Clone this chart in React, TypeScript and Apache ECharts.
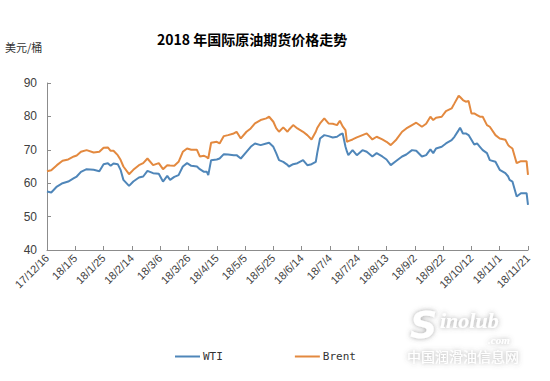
import React, { useEffect, useRef } from "react";
import * as echarts from "echarts";

const titleText = "2018 年国际原油期货价格走势";
const unitText = "美元/桶";
const seriesNames = ["WTI", "Brent"];

// x tick labels every 20 days, starting 2017-12-16
const tickLabels = [
  "17/12/16", "18/1/5", "18/1/25", "18/2/14", "18/3/6", "18/3/26", "18/4/15", "18/5/5", "18/5/25",
  "18/6/14", "18/7/4", "18/7/24", "18/8/13", "18/9/2", "18/9/22", "18/10/12", "18/11/1", "18/11/21",
];

// day offset from 2017-12-16
const days = [
  0, 3, 7, 11, 15, 19, 21, 24, 28, 33, 37, 40, 43, 45, 47, 50, 52, 54, 58, 61, 65, 68,
  71, 75, 79, 82, 85, 87, 90, 93, 96, 99, 102, 106, 108, 111, 113, 114, 116, 120, 122, 125, 128, 132, 134, 137,
  141, 144, 147, 151, 155, 157, 160, 162, 164, 167, 170, 171, 174, 177, 181, 184, 187, 190, 191, 193, 196, 199, 202,
  205, 207, 209, 211, 212, 213, 216, 219, 223, 226, 230, 233, 237, 240, 243, 247, 251, 254, 258, 261, 265, 268, 271,
  273, 275, 279, 282, 286, 288, 291, 292, 294, 296, 298, 300, 302, 304, 306, 308, 311, 313, 317, 320, 324, 326, 327,
  329, 332, 335, 339, 340,
];

const wti = [
  57.5, 57.2, 59.0, 60.0, 60.5, 61.5, 62.0, 63.4, 64.2, 64.0, 63.6, 65.7, 66.0, 65.2, 65.9, 65.7, 64.0, 61.0, 59.2, 60.5, 61.7, 62.0,
  63.7, 63.0, 62.8, 60.5, 62.2, 61.0, 61.9, 62.4, 65.0, 66.0, 65.2, 65.0, 64.2, 63.4, 63.4, 62.4, 66.9, 67.1, 67.4, 68.7, 68.6, 68.4, 68.4, 67.4,
  69.4, 70.9, 71.9, 71.4, 71.9, 72.1, 70.9, 69.0, 66.9, 66.4, 65.5, 65.0, 65.7, 66.0, 66.9, 65.4, 65.7, 66.4, 69.0, 73.4, 74.4, 74.1, 73.7,
  73.9, 74.5, 74.9, 70.9, 69.5, 68.4, 69.9, 68.4, 69.9, 69.4, 68.0, 69.0, 68.0, 67.1, 65.4, 66.7, 68.0, 68.6, 69.9, 69.7, 68.0, 68.4, 70.1,
  69.0, 70.4, 70.9, 71.9, 72.9, 73.9, 75.9, 76.6, 74.9, 74.9, 74.4, 73.0, 71.6, 71.9, 70.9, 69.9, 69.0, 66.9, 66.4, 64.0, 63.0, 62.0, 61.0,
  60.5, 56.0, 57.0, 57.0, 53.5,
];

const brent = [
  63.6, 63.9, 65.4, 66.7, 67.1, 68.0, 68.3, 69.4, 69.9, 69.2, 69.4, 70.6, 70.7, 69.7, 69.7, 68.4, 67.0, 65.0, 62.7, 64.0, 65.4, 66.0,
  67.4, 65.4, 66.0, 64.2, 65.4, 65.3, 65.2, 66.4, 69.4, 70.4, 70.0, 70.0, 68.0, 68.2, 67.8, 67.4, 72.1, 72.4, 71.9, 74.1, 74.4, 74.9, 75.4, 73.4,
  75.4, 76.4, 77.9, 78.9, 79.4, 79.9, 78.4, 76.5, 75.4, 76.7, 75.4, 76.0, 77.4, 76.4, 75.4, 74.4, 73.1, 75.4, 76.5, 77.9, 79.4, 77.9, 77.8,
  77.4, 78.7, 77.0, 75.9, 72.4, 72.6, 73.1, 73.7, 74.4, 74.9, 73.1, 73.9, 73.1, 72.4, 71.4, 73.1, 75.4, 76.4, 77.4, 78.1, 76.9, 77.8, 79.9,
  78.9, 79.6, 79.9, 81.6, 82.4, 83.9, 86.2, 85.8, 84.9, 84.4, 84.6, 80.9, 80.9, 80.4, 79.9, 79.9, 77.4, 76.9, 74.4, 73.4, 73.0, 71.4, 71.0,
  70.4, 66.0, 66.6, 66.6, 62.5,
];

const colors = ["#4F86B9", "#E3893F"];

export default function App() {
  const ref = useRef<HTMLDivElement>(null);
  useEffect(() => {
    if (!ref.current) return;
    const chart = echarts.init(ref.current, undefined, { renderer: "svg" });
    const wmShadow = {
      fill: "#ffffff",
      textShadowColor: "rgba(90,90,90,0.55)",
      textShadowBlur: 5,
    };
    chart.setOption({
      animation: false,
      backgroundColor: "#ffffff",
      grid: { left: 47, right: 22, top: 83, bottom: 131 },
      xAxis: {
        type: "value",
        min: 0,
        max: 340,
        interval: 20,
        splitLine: { show: false },
        axisLine: { lineStyle: { color: "#8c8c8c", width: 1 } },
        axisTick: { show: true, inside: true, length: 4, lineStyle: { color: "#8c8c8c" } },
        axisLabel: {
          rotate: 45,
          fontSize: 11,
          color: "#404040",
          fontFamily: "Liberation Sans, Arial, sans-serif",
          margin: 6,
          showMaxLabel: true,
          showMinLabel: true,
          formatter: (v: number) => tickLabels[Math.round(v / 20)] ?? "",
        },
      },
      yAxis: {
        type: "value",
        min: 40,
        max: 90,
        interval: 10,
        splitLine: { show: false },
        axisLine: { show: true, lineStyle: { color: "#8c8c8c", width: 1 } },
        axisTick: { show: true, inside: true, length: 4, lineStyle: { color: "#8c8c8c" } },
        axisLabel: {
          fontSize: 12,
          color: "#404040",
          fontFamily: "Liberation Sans, Arial, sans-serif",
          margin: 10,
        },
      },
      legend: {
        data: seriesNames.map((n) => ({ name: n, icon: "rect" })),
        left: 170,
        top: 346,
        itemWidth: 25,
        itemHeight: 2,
        itemGap: 72,
        textStyle: { fontSize: 11, color: "#333", fontFamily: "DejaVu Sans Mono, monospace", padding: [0, 0, 0, -2] },
      },
      series: [
        {
          name: seriesNames[0],
          type: "line",
          symbol: "none",
          data: days.map((d, i) => [d, wti[i]]),
          lineStyle: { color: colors[0], width: 2 },
          itemStyle: { color: colors[0] },
        },
        {
          name: seriesNames[1],
          type: "line",
          symbol: "none",
          data: days.map((d, i) => [d, brent[i]]),
          lineStyle: { color: colors[1], width: 2 },
          itemStyle: { color: colors[1] },
        },
      ],
      graphic: [
        {
          type: "text",
          left: 157,
          top: 32,
          style: {
            text: titleText,
            fontSize: 14,
            fontWeight: "bold",
            fill: "#000",
            fontFamily: "Noto Sans CJK SC, sans-serif",
          },
        },
        {
          type: "text",
          left: 5,
          top: 41,
          style: {
            text: unitText,
            fontSize: 11,
            fill: "#333",
            fontFamily: "Noto Sans CJK SC, sans-serif",
          },
        },
        {
          type: "text",
          left: 410,
          top: 306,
          style: {
            text: "S",
            fontSize: 38,
            fontWeight: "bold",
            fontStyle: "italic",
            fontFamily: "DejaVu Sans, sans-serif",
            ...wmShadow,
          },
        },
        {
          type: "text",
          left: 440,
          top: 309,
          style: {
            text: "inolub",
            fontSize: 22,
            fontWeight: "bold",
            fontStyle: "italic",
            fontFamily: "Liberation Serif, serif",
            ...wmShadow,
          },
        },
        {
          type: "text",
          left: 488,
          top: 334,
          style: {
            text: ".com",
            fontSize: 11,
            fontWeight: "bold",
            fontStyle: "italic",
            fontFamily: "Liberation Serif, serif",
            ...wmShadow,
          },
        },
        {
          type: "text",
          left: 407,
          top: 349,
          style: {
            text: "中国润滑油信息网",
            fontSize: 14,
            fontFamily: "Noto Sans CJK SC, sans-serif",
            ...wmShadow,
          },
        },
      ],
    });
    return () => chart.dispose();
  }, []);
  return (
    <div
      ref={ref}
      style={{ position: "fixed", left: 0, top: 0, width: 550, height: 381 }}
    />
  );
}
